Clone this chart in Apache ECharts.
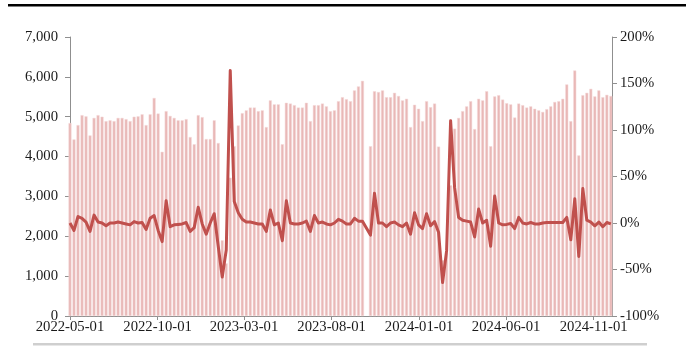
<!DOCTYPE html>
<html>
<head>
<meta charset="utf-8">
<script src="https://cdn.jsdelivr.net/npm/echarts@6/dist/echarts.min.js"></script>
<style>
  html, body { margin: 0; padding: 0; background: #ffffff; }
  #chart { width: 686px; height: 347px; }
</style>
</head>
<body>
<div id="chart"></div>
<script>
// Weekly series, first week dated 2022-05-01; the week of 2023-10-01 has no data (null).
const firstWeek = [2022, 5, 1];

// Weekly volume (left axis)
const volume = [
  4840, 4430, 4790, 5040, 5010, 4530, 4970, 5040, 5000, 4890,
  4910, 4890, 4970, 4970, 4940, 4890, 5000, 5010, 5060, 4790,
  5060, 5470, 5080, 4120, 5140, 5020, 4970, 4910, 4910, 4940,
  4490, 4310, 5040, 4990, 4440, 4440, 4910, 4340, 1900, 1320,
  3470, 4260, 4780, 5090, 5160, 5230, 5230, 5140, 5160, 4740,
  5410, 5310, 5310, 4310, 5350, 5330, 5290, 5230, 5230, 5350,
  4890, 5290, 5290, 5330, 5260, 5140, 5160, 5390, 5490, 5440,
  5390, 5660, 5760, 5900, null, 4260, 5640, 5620, 5660, 5490,
  5490, 5600, 5520, 5410, 5450, 4740, 5300, 5200, 4890, 5390,
  5240, 5330, 4250, 1400, 1580, 3280, 4700, 4970, 5140, 5260,
  5390, 4690, 5450, 5410, 5640, 4260, 5510, 5540, 5430, 5340,
  5310, 4980, 5330, 5290, 5230, 5260, 5200, 5160, 5120, 5190,
  5260, 5370, 5390, 5450, 5810, 4890, 6160, 4030, 5540, 5600,
  5700, 5510, 5660, 5490, 5550, 5520
];

// Week-over-week change, % (right axis)
const change = [
  0, -8, 7, 5, 1, -9, 8.5, 1, 0, -3,
  0, 0, 1, 0, -1, -2, 1.5, 0, 0.5, -7,
  5, 8, -8, -20, 24, -4, -2, -1.5, -1, 0.5,
  -9, -5, 17, -1, -12, 0, 10, -25, -58, -29,
  164, 23, 11, 4, 1, 1, 0, -1, -1, -9,
  14, -2, 0, -19, 24, 0, -1, -1, 0, 2,
  -9, 8, 0, 1, -1, -2, 0, 4, 2, -1,
  -1, 5, 2, 2, null, -13, 32, 0, 0, -4,
  0, 1, -2, -4, 0, -12, 11, -2, -6, 10,
  -3, 1.5, -10, -64, -30, 110, 38, 6, 3, 2,
  1, -15, 15, 0, 3, -25, 29, 0, -2, -1.5,
  -0.5, -6, 6, 0, -1, 0.5, -1, -1, 0, 0.5,
  0.5, 0.5, 0.5, 0.5, 6, -18, 26, -36, 37, 3,
  1, -3, 1, -4, 0.5, -1
];

// Date tick labels on the horizontal axis
const dateTicks = ['2022-05-01', '2022-10-01', '2023-03-01', '2023-08-01', '2024-01-01', '2024-06-01', '2024-11-01'];

const DAY = 86400000;
const pad = n => (n < 10 ? '0' : '') + n;
// Dates are handled as UTC day numbers to keep them timezone-free
const toTime = s => {
  const p = s.split('-').map(Number);
  return Date.UTC(p[0], p[1] - 1, p[2]);
};
const fmtDate = t => {
  const d = new Date(Math.round(t / DAY) * DAY);
  return d.getUTCFullYear() + '-' + pad(d.getUTCMonth() + 1) + '-' + pad(d.getUTCDate());
};

// One timestamp per week
const start = Date.UTC(firstWeek[0], firstWeek[1] - 1, firstWeek[2]);
const weeks = volume.map((_, i) => start + 7 * i * DAY);

const tickTimes = dateTicks.map(toTime);
const font = '"Liberation Serif", "Times New Roman", serif';
const textColor = '#1a1a1a';
const axisGray = '#8f8f8f';

const chart = echarts.init(document.getElementById('chart'), null, { renderer: 'canvas' });

chart.setOption({
  animation: false,
  backgroundColor: '#ffffff',
  grid: { left: 70, right: 74, top: 37, bottom: 31, containLabel: false },
  xAxis: {
    type: 'value',
    min: toTime('2022-05-01'),
    max: toTime('2024-12-03'),
    scale: true,
    axisLine: { show: true, onZero: false, lineStyle: { color: axisGray, width: 1 } },
    axisTick: { show: true, length: 4, customValues: tickTimes, lineStyle: { color: axisGray } },
    axisLabel: {
      customValues: tickTimes,
      formatter: v => fmtDate(v),
      fontFamily: font, fontSize: 14.7, color: textColor, margin: 4,
      hideOverlap: false
    },
    splitLine: { show: false }
  },
  yAxis: [
    {
      type: 'value', min: 0, max: 7000, interval: 1000,
      axisLine: { show: true, lineStyle: { color: axisGray, width: 1 } },
      axisTick: { show: true, length: 5, lineStyle: { color: axisGray } },
      axisLabel: {
        fontFamily: font, fontSize: 14.7, color: textColor, margin: 12,
        formatter: v => v.toLocaleString('en-US')
      },
      splitLine: { show: false }
    },
    {
      type: 'value', min: -100, max: 200, interval: 50,
      axisLine: { show: true, lineStyle: { color: axisGray, width: 1 } },
      axisTick: { show: true, length: 5, lineStyle: { color: axisGray } },
      axisLabel: {
        fontFamily: font, fontSize: 14.7, color: textColor, margin: 8,
        formatter: '{value}%'
      },
      splitLine: { show: false }
    }
  ],
  series: [
    {
      name: 'volume',
      type: 'bar',
      yAxisIndex: 0,
      barWidth: 3,
      itemStyle: { color: '#E9B8B7', borderColor: '#F5DADA', borderWidth: 0.5 },
      data: weeks.map((t, i) => [t, volume[i]]),
      z: 2
    },
    {
      name: 'change',
      type: 'line',
      yAxisIndex: 1,
      symbol: 'none',
      connectNulls: true,
      lineStyle: { color: '#C0504D', width: 3, join: 'round' },
      itemStyle: { color: '#C0504D' },
      data: weeks.map((t, i) => [t, change[i]]),
      z: 3
    }
  ],
  graphic: [
    { type: 'rect', left: 8, top: 4, shape: { width: 678, height: 2.5 }, style: { fill: '#000000' } },
    { type: 'rect', left: 33, top: 343, shape: { width: 614, height: 2.5 }, style: { fill: '#cfcfcf' } }
  ]
});
</script>
</body>
</html>
